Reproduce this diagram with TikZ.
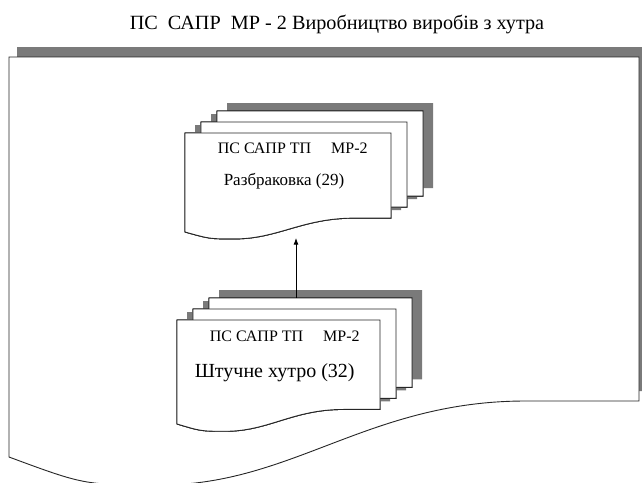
\documentclass[tikz,border=0pt]{standalone}
\usepackage{fontspec}
\setmainfont{Liberation Serif}
\usetikzlibrary{arrows.meta}
\definecolor{ShadowGray}{HTML}{7A7A7A}
\definecolor{SheetLine}{HTML}{262626}
% one sheet with a wavy lower edge, top-left corner at (#2,#3), size #4 x #5
\newcommand{\sheet}[5]{%
  \path[#1, shift={(#2,#3)}, xscale=#4, yscale=#5]
    (0,0) -- (1,0) -- (1,0.86) -- (0.82,0.86)
    .. controls (0.57,0.86) and (0.45,1.07) .. (0.24,1.07)
    .. controls (0.12,1.07) .. (0,1) -- cycle;}

\begin{document}
\begin{tikzpicture}[x=1pt, y=-1pt, >=Latex, line width=0.9pt]
  \tikzset{
    shadow/.style={fill=ShadowGray},
    paper/.style={fill=white, draw=SheetLine},
    head/.style={anchor=base west, font=\fontsize{16}{19}\selectfont},
  }
  \clip (0,0) rectangle (642,482);
  \fill[white] (0,0) rectangle (642,482);

  \node[anchor=base, font=\fontsize{20.2}{24}\selectfont] (title) at (337,29)
    {ПС\ \ САПР\ \ МР - 2 Виробництво виробів з хутра};

  % outer frame
  \sheet{shadow}{17}{47}{630}{400}
  \sheet{paper}{9}{57}{630}{400}

  % upper stack
  \foreach \i in {2,1,0}
    \sheet{shadow}{195+16*\i}{125-11*\i}{206}{99}
  \foreach \i in {2,1,0}
    \sheet{paper}{185+16*\i}{133-11*\i}{206}{99}
  \node[head] (razbrHead) at (214,153) {ПС САПР ТП\quad\ МР-2};
  \node[anchor=base west, font=\fontsize{17}{20}\selectfont] (razbr) at (220,185)
    {Разбраковка (29)};

  % lower stack
  \foreach \i in {2,1,0}
    \sheet{shadow}{187+16*\i}{312-11*\i}{203}{104}
  \foreach \i in {2,1,0}
    \sheet{paper}{177+16*\i}{320-11*\i}{203}{104}
  \node[head] (shtuchHead) at (206,341) {ПС САПР ТП\quad\ МР-2};
  \node[anchor=base west, font=\fontsize{20}{24}\selectfont] (shtuch) at (191,377)
    {Штучне хутро (32)};

  \coordinate (razbrIn) at (296,238);
  \coordinate (shtuchOut) at (296,298);
  \draw[->, line width=0.8pt] (shtuchOut) -- (razbrIn);
\end{tikzpicture}
\end{document}
